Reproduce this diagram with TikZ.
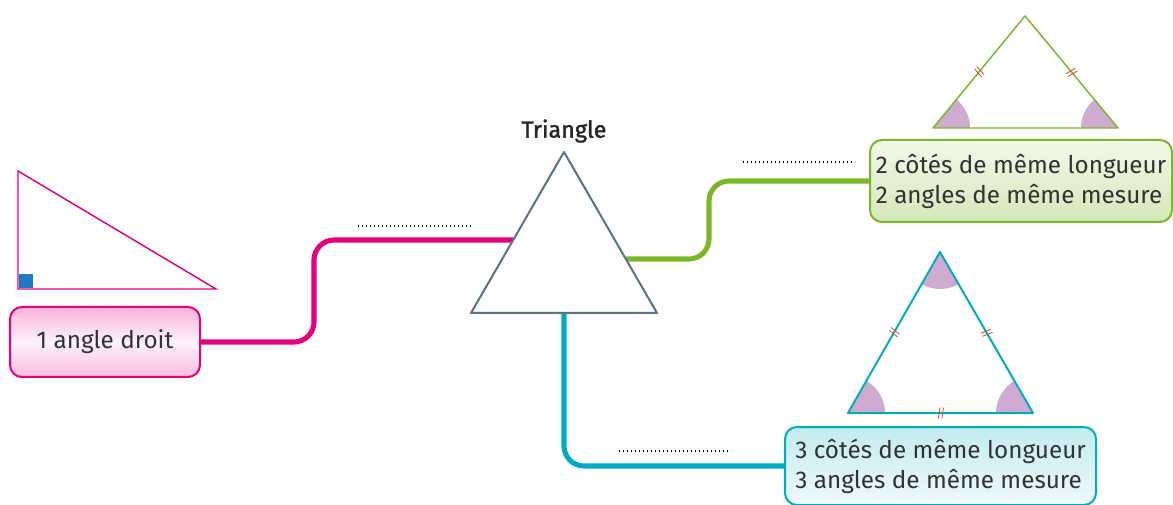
\documentclass[tikz,border=0pt]{standalone}
\usepackage{fontspec}
\setmainfont{Fira Sans}
\newfontfamily\titrefont[FakeBold=1.5]{Fira Sans}
\usetikzlibrary{calc,decorations.markings}

\definecolor{rose}{RGB}{230,0,126}
\definecolor{vert}{RGB}{122,184,41}
\definecolor{turquoise}{RGB}{0,172,190}
\definecolor{ardoise}{RGB}{90,115,132}
\definecolor{mauve}{RGB}{207,170,209}
\definecolor{rouge}{RGB}{232,64,48}
\definecolor{texte}{RGB}{50,50,50}
\definecolor{carre}{RGB}{31,123,191}

\tikzset{
  boite/.style={rounded corners=9pt, line width=1.5pt, inner sep=0pt, align=left, text=texte, font=\fontsize{18.2}{22.5}\selectfont},
  branche/.style={line width=3.8pt, rounded corners=15pt},
  pointilles/.style={line width=1.1pt, dash pattern=on 1.1pt off 1.9pt},
  egal/.style={postaction={decorate, decoration={markings, mark=at position 0.5 with {\draw[rouge, line width=0.6pt] (-1.6pt,-4pt) -- (-0.4pt,4pt) (1.0pt,-4pt) -- (2.2pt,4pt);}}}}
}

\begin{document}
\begin{tikzpicture}[x=0.75pt,y=0.75pt,yscale=-1]
  \useasboundingbox (0,0) rectangle (1173,505);

  % Boites
  \node[boite, draw=rose, top color=rose!30, bottom color=rose!26, middle color=rose!5, minimum width=142.5pt, minimum height=52.5pt, align=center] (droit) at (105,342) {1 angle droit};
  \node[boite, draw=vert, top color=vert!10, bottom color=vert!32, minimum width=226.5pt, minimum height=61.5pt] (isocele) at (1021,181) {2 côtés de même longueur\\2 angles de même mesure};
  \node[boite, draw=turquoise, top color=turquoise!24, bottom color=turquoise!6, minimum width=233.25pt, minimum height=58.5pt] (equilateral) at (940.5,466) {3 côtés de même longueur\\3 angles de même mesure};

  % Triangle central
  \coordinate (sommet) at (564,152);
  \coordinate (baseg) at (471,313);
  \coordinate (based) at (657,313);
  \coordinate (pointg) at (513,240);
  \coordinate (pointd) at (626,259);
  \coordinate (pointb) at (564,313);

  % Branches
  \draw[branche, rose] (droit.east) -- ++(113,0) |- (pointg);
  \draw[branche, vert] (pointd) -| ($(isocele.west)+(-160,0)$) -- (isocele.west);
  \draw[branche, turquoise] (pointb) |- (equilateral.west);

  \draw[ardoise, line width=1.5pt, line join=round] (sommet) -- (baseg) -- (based) -- cycle;
  \node[text=black!85, font=\fontsize{17.5}{20}\titrefont] (titre) at (564,131) {Triangle};

  % Pointilles
  \draw[pointilles] (358,226) -- (471,226);
  \draw[pointilles] (743,162) -- (855,162);
  \draw[pointilles] (619,451) -- (731,451);

  % Triangle rectangle
  \fill[carre] (19,274) rectangle (33,288);
  \draw[rose, line width=1.1pt] (18,171) -- (18,289) -- (216,289) -- cycle;

  % Triangle isocele
  \coordinate (i1) at (1025,16);
  \coordinate (i2) at (933,128);
  \coordinate (i3) at (1118,128);
  \begin{scope}
    \clip (i1) -- (i2) -- (i3) -- cycle;
    \fill[mauve] (i2) circle (37);
    \fill[mauve] (i3) circle (37);
  \end{scope}
  \draw[vert, line width=1.1pt, line join=round] (i1) -- (i2) -- (i3) -- cycle;
  \path[egal] (i2) -- (i1);
  \path[egal] (i1) -- (i3);

  % Triangle equilateral
  \coordinate (e1) at (940,252);
  \coordinate (e2) at (848,413);
  \coordinate (e3) at (1033,413);
  \begin{scope}
    \clip (e1) -- (e2) -- (e3) -- cycle;
    \fill[mauve] (e1) circle (37);
    \fill[mauve] (e2) circle (37);
    \fill[mauve] (e3) circle (37);
  \end{scope}
  \draw[turquoise, line width=1.5pt, line join=round] (e1) -- (e2) -- (e3) -- cycle;
  \path[egal] (e2) -- (e1);
  \path[egal] (e1) -- (e3);
  \path[egal] (e2) -- (e3);
\end{tikzpicture}
\end{document}
